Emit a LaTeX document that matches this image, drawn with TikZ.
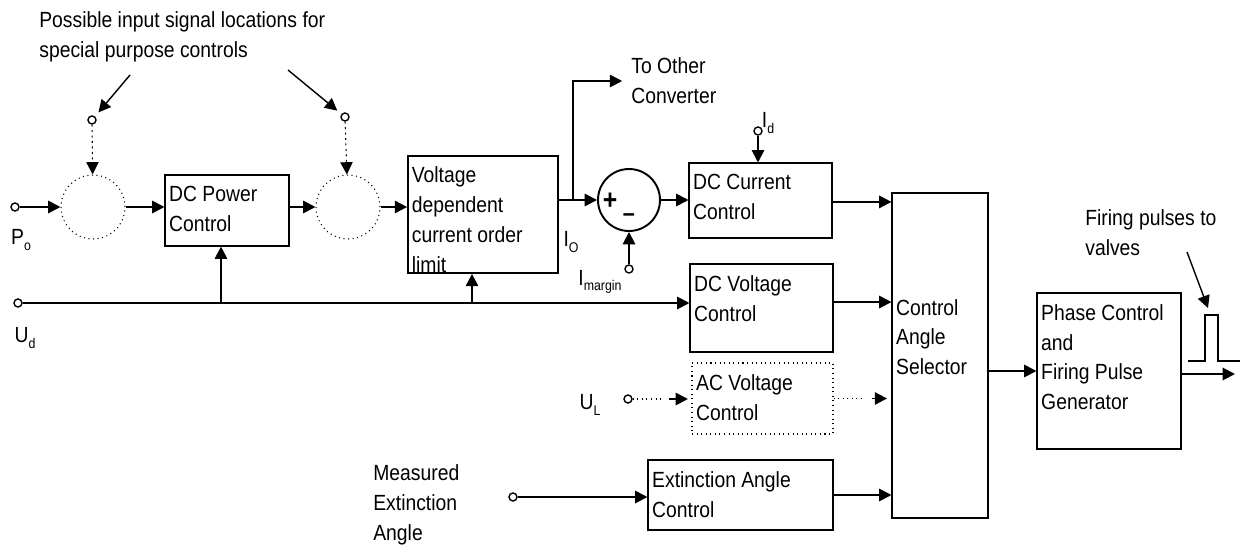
\documentclass[tikz,border=0pt]{standalone}
\usepackage{fontspec}
\setmainfont{Liberation Sans}[FakeStretch=0.88]
\usetikzlibrary{arrows.meta,fit}

\newcommand{\lowsub}[1]{\raisebox{-0.45ex}{\fontsize{8}{8}\selectfont #1}}

\tikzset{
  blk/.style={draw, line width=0.6pt, inner sep=0pt},
  boxtxt/.style={anchor=north west, inner sep=0pt, align=left, xshift=2.5pt, yshift=-6.5pt},
  sig/.style={line width=1.1pt, -{Triangle[length=7pt,width=7pt]}},
  term/.style={circle, draw, line width=0.8pt, fill=white, inner sep=0pt, minimum size=0.16cm},
  ghost/.style={circle, draw, dotted, line width=0.6pt, minimum size=1.28cm, inner sep=0pt},
  txt/.style={inner sep=0pt, align=left}
}

\begin{document}
\begin{tikzpicture}[x=0.02cm, y=-0.02cm, font=\fontsize{12.5}{17}\selectfont]
\useasboundingbox (0,0) rectangle (1241,548);

% signal sources
\node[term] (po) at (15,207) {};
\node[term] (ud) at (18,303) {};
\node[term] (s1) at (92,120) {};
\node[term] (s2) at (345,117) {};
\node[term] (im) at (629,269) {};
\node[term] (id) at (758,131) {};
\node[term] (ul) at (628,399) {};
\node[term] (me) at (513,497) {};

% blocks
\node[ghost] (c1) at (93,207) {};
\node[ghost] (c2) at (348,207) {};
\node[blk, fit={(165,175) (289,246)}] (dcp) {};
\node[blk, line width=1pt, fit={(408,156) (558,273)}] (vd) {};
\node[circle, draw, line width=1.1pt, minimum size=1.24cm, inner sep=0pt] (sum) at (629,200) {};
\node[blk, fit={(689,163) (832,238)}] (dcc) {};
\node[blk, fit={(690,264) (833,352)}] (dcv) {};
\node[blk, dotted, fit={(692,363) (833,434)}] (acv) {};
\node[blk, fit={(648,460) (833,530)}] (ext) {};
\node[blk, fit={(892,193) (988,518)}] (sel) {};
\node[blk, fit={(1037,293) (1181,449)}] (ph) {};

\node[boxtxt] (dcpl) at (dcp.north west) {DC Power\\Control};
\node[boxtxt] (vdl) at (vd.north west) {Voltage\\dependent\\current order\\limit};
\node[boxtxt] (dccl) at (dcc.north west) {DC Current\\Control};
\node[boxtxt] (dcvl) at (dcv.north west) {DC Voltage\\Control};
\node[boxtxt] (acvl) at (acv.north west) {AC Voltage\\Control};
\node[boxtxt] (extl) at (ext.north west) {Extinction Angle\\Control};
\node[boxtxt, yshift=-54pt] (sell) at (sel.north west) {Control\\Angle\\Selector};
\node[boxtxt] (phl) at (ph.north west) {Phase Control\\and\\Firing Pulse\\Generator};
\node[inner sep=0pt] (plus) at (610,201) {\fontsize{16}{16}\selectfont\bfseries +};
\node[inner sep=0pt] (minus) at (629,218) {\fontsize{14}{14}\selectfont\bfseries --};

% labels
\node[txt, anchor=west] (title) at (39,37) {Possible input signal locations for\\special purpose controls};
\node[txt, anchor=west] (toc) at (631,81) {To Other\\Converter};
\node[txt] (pol) at (21,240) {P\lowsub{o}};
\node[txt] (udl) at (25,338) {U\lowsub{d}};
\node[txt] (iol) at (571,242) {I\lowsub{O}};
\node[txt] (iml) at (600,282) {I\lowsub{margin}};
\node[txt] (idl) at (768,123) {I\lowsub{d}};
\node[txt] (ull) at (590,405) {U\lowsub{L}};
\node[txt, anchor=west] (mel) at (373,505) {Measured\\Extinction\\Angle};
\node[txt, anchor=west] (fpl) at (1085,233) {Firing pulses to\\valves};

% input signal locations
\coordinate (a1) at (130,75);
\coordinate (a2) at (288,70);
\draw[sig, line width=0.8pt, shorten >=3pt] (a1) -- (s1);
\draw[sig, line width=0.8pt, shorten >=3pt] (a2) -- (s2);
\draw[sig, dotted, line width=0.6pt] (s1) -- (c1);
\draw[sig, dotted, line width=0.6pt] (s2) -- (c2);

% power order path
\draw[sig] (po) -- (c1);
\draw[sig] (c1) -- (c1 -| dcp.west);
\draw[sig] (dcp.east |- c2) -- (c2);
\draw[sig] (c2) -- (c2 -| vd.west);

% Ud bus
\draw[sig] (ud) -- (ud -| dcv.west);
\coordinate (j1) at (221,303);
\coordinate (j2) at (472,303);
\draw[sig] (j1) -- (j1 |- dcp.south);
\draw[sig] (j2) -- (j2 |- vd.south);

% current order
\draw[sig] (vd.east |- sum) -- (sum);
\coordinate (j3) at (573,200);
\draw[sig] (j3) |- ([xshift=-5pt]toc.west);
\draw[sig] (sum) -- (sum -| dcc.west);
\draw[sig] (im) -- (sum);
\draw[sig] (id) -- (id |- dcc.north);

% into selector
\coordinate (dcco) at ([yshift=-0.8pt]dcc.east);
\draw[sig] (dcco) -- (dcco -| sel.west);
\coordinate (dcvo) at ([yshift=3.4pt]dcv.east);
\draw[sig] (dcvo) -- (dcvo -| sel.west);
\draw[dotted, line width=0.6pt] (ul) -- ++(34,0);
\path (ul -| acv.west) ++(-22,0) coordinate (ulh);
\draw[sig, shorten >=2pt] (ulh) -- (ul -| acv.west);
\draw[dotted, line width=0.6pt] (acv.east) -- ++(29,0);
\path (acv.east -| sel.west) ++(-19,0) coordinate (acvh);
\draw[sig, shorten >=2.5pt] (acvh) -- (acv.east -| sel.west);
\draw[sig] (me) -- (me -| ext.west);
\draw[sig] (ext.east) -- (ext.east -| sel.west);

% firing
\draw[sig] (ph.west -| sel.east) -- (ph.west);
\coordinate (fo) at (1235,374);
\draw[sig] (ph.east |- fo) -- (fo);
\draw[line width=1.1pt] (1188,361) -| (1205,315) -| (1218,361) -- (1240,361);
\coordinate (fp) at (1187,252);
\coordinate (pk) at (1208,308);
\draw[sig, line width=0.8pt] (fp) -- (pk);
\end{tikzpicture}
\end{document}
